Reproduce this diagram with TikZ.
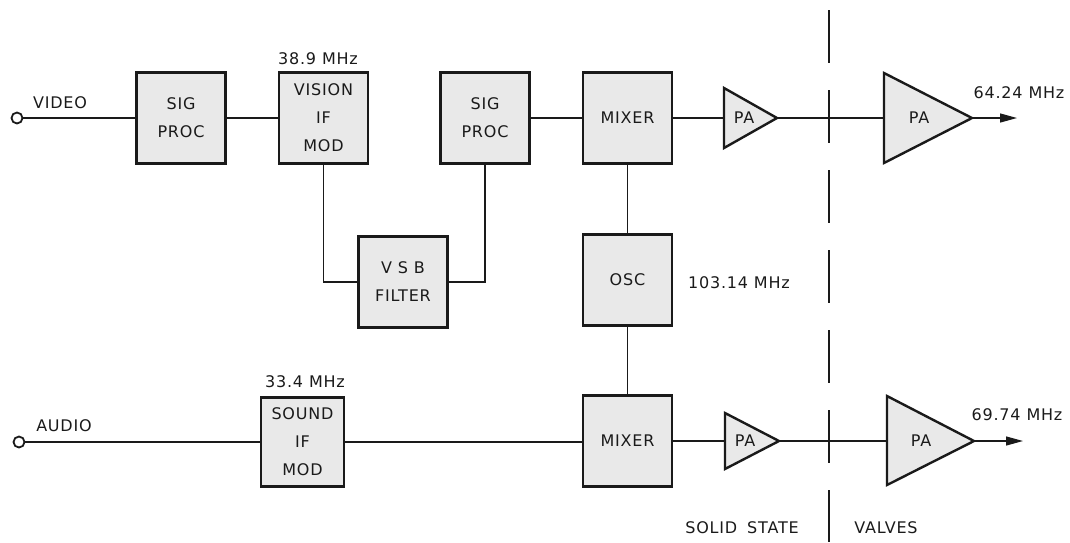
\documentclass[tikz,border=0pt]{standalone}
\usepackage{fontspec}
\setmainfont{DejaVu Sans}[LetterSpace=5]
\usetikzlibrary{arrows.meta}
\definecolor{ink}{HTML}{1A1A1A}
\definecolor{boxgray}{HTML}{E9E9E9}
\newcommand\labfont{\fontsize{16}{28}\selectfont}
\begin{document}
\begin{tikzpicture}[x=1pt,y=-1pt,
  blk/.style={draw=ink, line width=2.4pt, fill=boxgray, minimum width=89pt, minimum height=91pt, inner sep=0pt, align=center, font=\labfont, text=ink},
  wire/.style={draw=ink, line width=1.3pt},
  amp/.style={draw=ink, line width=2.4pt, fill=boxgray, line join=miter},
  txt/.style={font=\labfont, inner sep=0pt, text=ink},
  term/.style={draw=ink, circle, fill=white, minimum size=11pt, inner sep=0pt, line width=1.8pt},
  outarrow/.style={wire, -{Triangle[length=17pt,width=9pt]}}
]
\useasboundingbox (0,0) rectangle (1070,542);

% divider
\coordinate (divtop) at (829,10);
\coordinate (divbot) at (829,542);
\draw[ink, line width=2.2pt, dash pattern=on 53pt off 27pt] (divtop) -- (divbot);

% blocks
\node[blk] (sp1) at (181,118) {SIG\\PROC};
\node[blk] (vis) at (323.5,118) {VISION\\IF\\MOD};
\node[blk] (sp2) at (485,118) {SIG\\PROC};
\node[blk] (mix1) at (627.5,118) {MIXER};
\node[blk] (vsb) at (403,282) {V S B\\FILTER};
\node[blk] (osc) at (627.5,280) {OSC};
\node[blk, minimum width=83pt, minimum height=89pt] (snd) at (302.5,442) {SOUND\\IF\\MOD};
\node[blk] (mix2) at (627.5,441) {MIXER};

% amplifiers
\draw[amp] (724,88) -- (724,148) -- (777,118) -- cycle;
\coordinate (pa1in) at (724,118); \coordinate (pa1out) at (777,118);
\node[txt] (pa1) at (744,118) {PA};
\draw[amp] (884,73) -- (884,163) -- (972,118) -- cycle;
\coordinate (pb1in) at (884,118); \coordinate (pb1out) at (972,118);
\node[txt] (pb1) at (919,118) {PA};
\draw[amp] (725,413) -- (725,469) -- (779,441) -- cycle;
\coordinate (pa2in) at (725,441); \coordinate (pa2out) at (779,441);
\node[txt] (pa2) at (745,441) {PA};
\draw[amp] (887,396) -- (887,485) -- (974,441) -- cycle;
\coordinate (pb2in) at (887,441); \coordinate (pb2out) at (974,441);
\node[txt] (pb2) at (921,441) {PA};

% terminals
\node[term] (vid) at (17,118) {};
\node[term] (aud) at (19,442) {};
\coordinate (out1) at (1017,118);
\coordinate (out2) at (1023,441);

% wires
\draw[wire] (vid.east) -- (sp1.west);
\draw[wire] (sp1.east) -- (vis.west);
\draw[wire] (vis.south) |- (vsb.west);
\draw[wire] (vsb.east) -| (sp2.south);
\draw[wire] (sp2.east) -- (mix1.west);
\draw[wire] (mix1.east) -- (pa1in);
\draw[wire] (pa1out) -- (pb1in);
\draw[outarrow] (pb1out) -- (out1);
\draw[wire] (mix1.south) -- (osc.north);
\draw[wire] (osc.south) -- (mix2.north);
\draw[wire] (aud.east) -- (snd.west);
\draw[wire] (snd.east) -- (snd.east -| mix2.west);
\draw[wire] (mix2.east) -- (pa2in);
\draw[wire] (pa2out) -- (pb2in);
\draw[outarrow] (pb2out) -- (out2);

% labels
\node[txt] (lvid) at (60,103) {VIDEO};
\node[txt] (laud) at (64,426) {AUDIO};
\node[txt] (f389) at (318,59) {38.9 MHz};
\node[txt] (f334) at (305,382) {33.4 MHz};
\node[txt] (f10314) at (739,283) {103.14 MHz};
\node[txt] (f6424) at (1019,93) {64.24 MHz};
\node[txt] (f6974) at (1017,415) {69.74 MHz};
\node[txt] (lss) at (742,528) {SOLID\hspace{10pt}STATE};
\node[txt] (lval) at (886,528) {VALVES};
\end{tikzpicture}
\end{document}
